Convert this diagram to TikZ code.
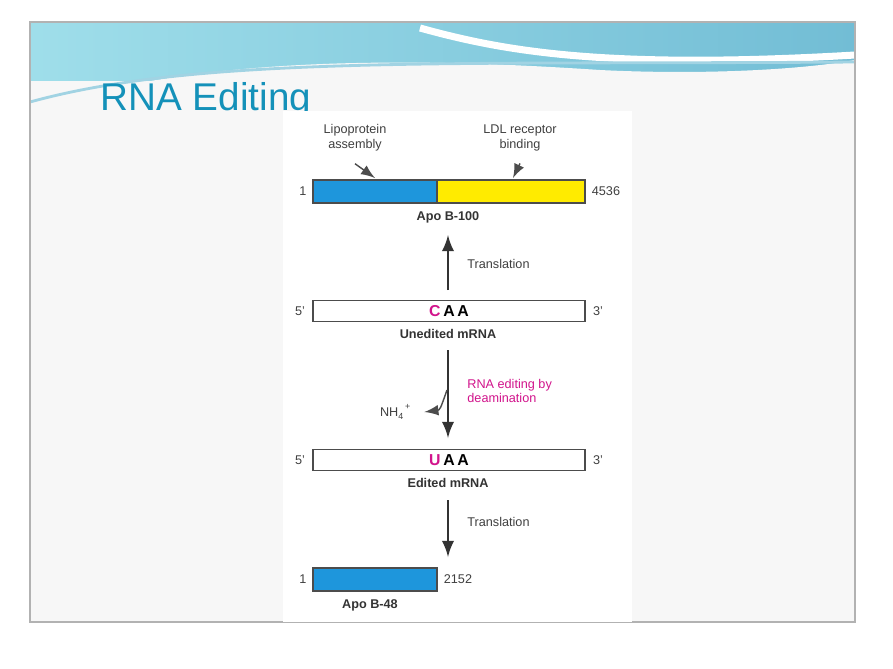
\documentclass[tikz,border=0pt]{standalone}
\usepackage{fontspec}
\setmainfont{Liberation Sans}
\usepackage{tikz}
\usetikzlibrary{positioning}
\definecolor{teal1}{RGB}{20,145,185}
\definecolor{apoblue}{RGB}{30,150,220}
\definecolor{apoyellow}{RGB}{255,235,0}
\definecolor{editcol}{RGB}{210,20,140}
\tikzset{
  lbl/.style={font=\fontsize{3.6}{4.2}\selectfont, align=center, text=black!75},
  protname/.style={font=\bfseries\fontsize{3.6}{4.2}\selectfont, text=black!80},
  rna/.style={draw=black!70, fill=white, minimum width=2.72cm, minimum height=0.21cm, inner sep=0pt, font=\bfseries\fontsize{4.5}{5}\selectfont},
  arr/.style={->, >=latex, black!80, semithick}
}
\begin{document}
\begin{tikzpicture}[x=0.01cm,y=-0.01cm]
  \useasboundingbox (0,0) rectangle (893,669);
  \fill[white] (0,0) rectangle (893,669);
  % slide
  \fill[black!3] (30,22) rectangle (855,622);
  \shade[left color=cyan!25!teal1!40, right color=teal1!60] (30,22) rectangle (855,80);
  \fill[black!3] (30,112) .. controls (200,50) and (450,60) .. (600,70) .. controls (700,75) and (800,70) .. (855,60) -- (855,112) -- cycle;
  \draw[white, line width=2pt] (420,28) .. controls (500,50) and (600,70) .. (855,55);
  \draw[teal1!40, thick] (30,102) .. controls (200,55) and (450,65) .. (855,62);
  \draw[black!30] (30,22) rectangle (855,622);
  \node[anchor=west, text=teal1, font=\fontsize{11}{12}\selectfont] (title) at (88,100) {RNA Editing};
  % panel
  \fill[white] (283,111) rectangle (632,622);
  % Apo B-100
  \fill[apoblue, draw=black!70] (313,180) rectangle (437,203);
  \fill[apoyellow, draw=black!70] (437,180) rectangle (585,203);
  \node[lbl] (one1) at (303,191) {1};
  \node[lbl] (len1) at (606,191) {4536};
  \node[protname] (b100) at (448,217) {Apo B-100};
  \node[lbl] (lipo) at (355,138) {Lipoprotein\\assembly};
  \node[lbl] (ldl) at (520,138) {LDL receptor\\binding};
  \coordinate (lipoEnd) at (375,178);
  \coordinate (ldlEnd) at (513,178);
  \draw[->, >=latex, black!70, thin] (lipo.south) -- (lipoEnd);
  \draw[->, >=latex, black!70, thin] (ldl.south) -- (ldlEnd);
  % unedited
  \node[rna] (unedit) at (449,311) {\textcolor{editcol}{C}\,A\,A};
  \node[lbl] (p5a) at (300,311) {5'};
  \node[lbl] (p3a) at (598,311) {3'};
  \node[protname] (unname) at (448,334) {Unedited mRNA};
  \coordinate (tr1Start) at (448,290);
  \coordinate (tr1End) at (448,235);
  \draw[arr] (tr1Start) -- (tr1End);
  \node[lbl, anchor=west] (tr1) at (455,264) {Translation};
  % editing
  \coordinate (edStart) at (448,350);
  \coordinate (edEnd) at (448,438);
  \draw[arr] (edStart) -- (edEnd);
  \node[lbl, anchor=west, text=editcol, align=left] (deam) at (455,391) {RNA editing by\\deamination};
  \node[lbl] (nh4) at (396,412) {NH\textsubscript{4}\textsuperscript{+}};
  \coordinate (nhStart) at (447,390);
  \draw[->, >=latex, black!70, thin] (nhStart) .. controls (440,410) .. (nh4.east);
  % edited
  \node[rna] (edited) at (449,460) {\textcolor{editcol}{U}\,A\,A};
  \node[lbl] (p5b) at (300,460) {5'};
  \node[lbl] (p3b) at (598,460) {3'};
  \node[protname] (edname) at (448,483) {Edited mRNA};
  \coordinate (tr2Start) at (448,500);
  \coordinate (tr2End) at (448,557);
  \draw[arr] (tr2Start) -- (tr2End);
  \node[lbl, anchor=west] (tr2) at (455,522) {Translation};
  % Apo B-48
  \fill[apoblue, draw=black!70] (313,568) rectangle (437,591);
  \node[lbl] (one2) at (303,579) {1};
  \node[lbl] (len2) at (458,579) {2152};
  \node[protname] (b48) at (370,605) {Apo B-48};
\end{tikzpicture}
\end{document}
